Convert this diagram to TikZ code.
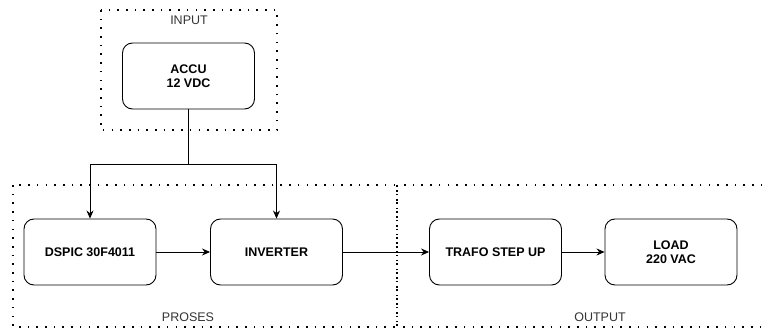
\documentclass[tikz,border=0pt]{standalone}
\usepackage{fontspec}
\setmainfont{Liberation Sans}
\usepackage{tikz}
\usetikzlibrary{positioning, arrows.meta}
\usepackage{xcolor}

\begin{document}
\begin{tikzpicture}[x=1pt, y=-1pt,
    block/.style={draw, rounded corners=10pt, line width=0.9pt, minimum width=132pt,
        minimum height=66pt, inner sep=0pt, align=center,
        font=\fontsize{12.5}{14}\selectfont\bfseries},
    group/.style={line width=2pt, dash pattern=on 1.6pt off 7.1pt},
    grouplabel/.style={font=\fontsize{12.5}{14}\selectfont, text=black!80},
    link/.style={line width=0.8pt, -{Stealth[length=8pt, width=7pt]}}]
    \clip (0,0) rectangle (766,334);

    % Dotted group frames
    \draw[group] (101,10) rectangle (277,130);
    \draw[group] (13,185) rectangle (397,327);
    \draw[group] (397,185) rectangle (790,327);
    \node[grouplabel] (inputlbl) at (189,20) {INPUT};
    \node[grouplabel] (proseslbl) at (188,317) {PROSES};
    \node[grouplabel] (outputlbl) at (600,317) {OUTPUT};

    % Blocks
    \node[block] (accu) at (188.5,76) {ACCU\\12 VDC};
    \node[block] (dspic) at (90,252) {DSPIC 30F4011};
    \node[block] (inverter) at (276.5,252) {INVERTER};
    \node[block] (trafo) at (495.5,252) {TRAFO STEP UP};
    \node[block] (load) at (671,252) {LOAD\\220 VAC};

    % Supply from the accu to both blocks
    \coordinate (split) at (accu.south |- 0,164);
    \draw[line width=0.8pt] (accu) -- (split);
    \draw[link] (split) -| (dspic);
    \draw[link] (split) -| (inverter);

    % Power chain
    \draw[link] (dspic) -- (inverter);
    \draw[link] (inverter) -- (trafo);
    \draw[link] (trafo) -- (load);
\end{tikzpicture}
\end{document}
